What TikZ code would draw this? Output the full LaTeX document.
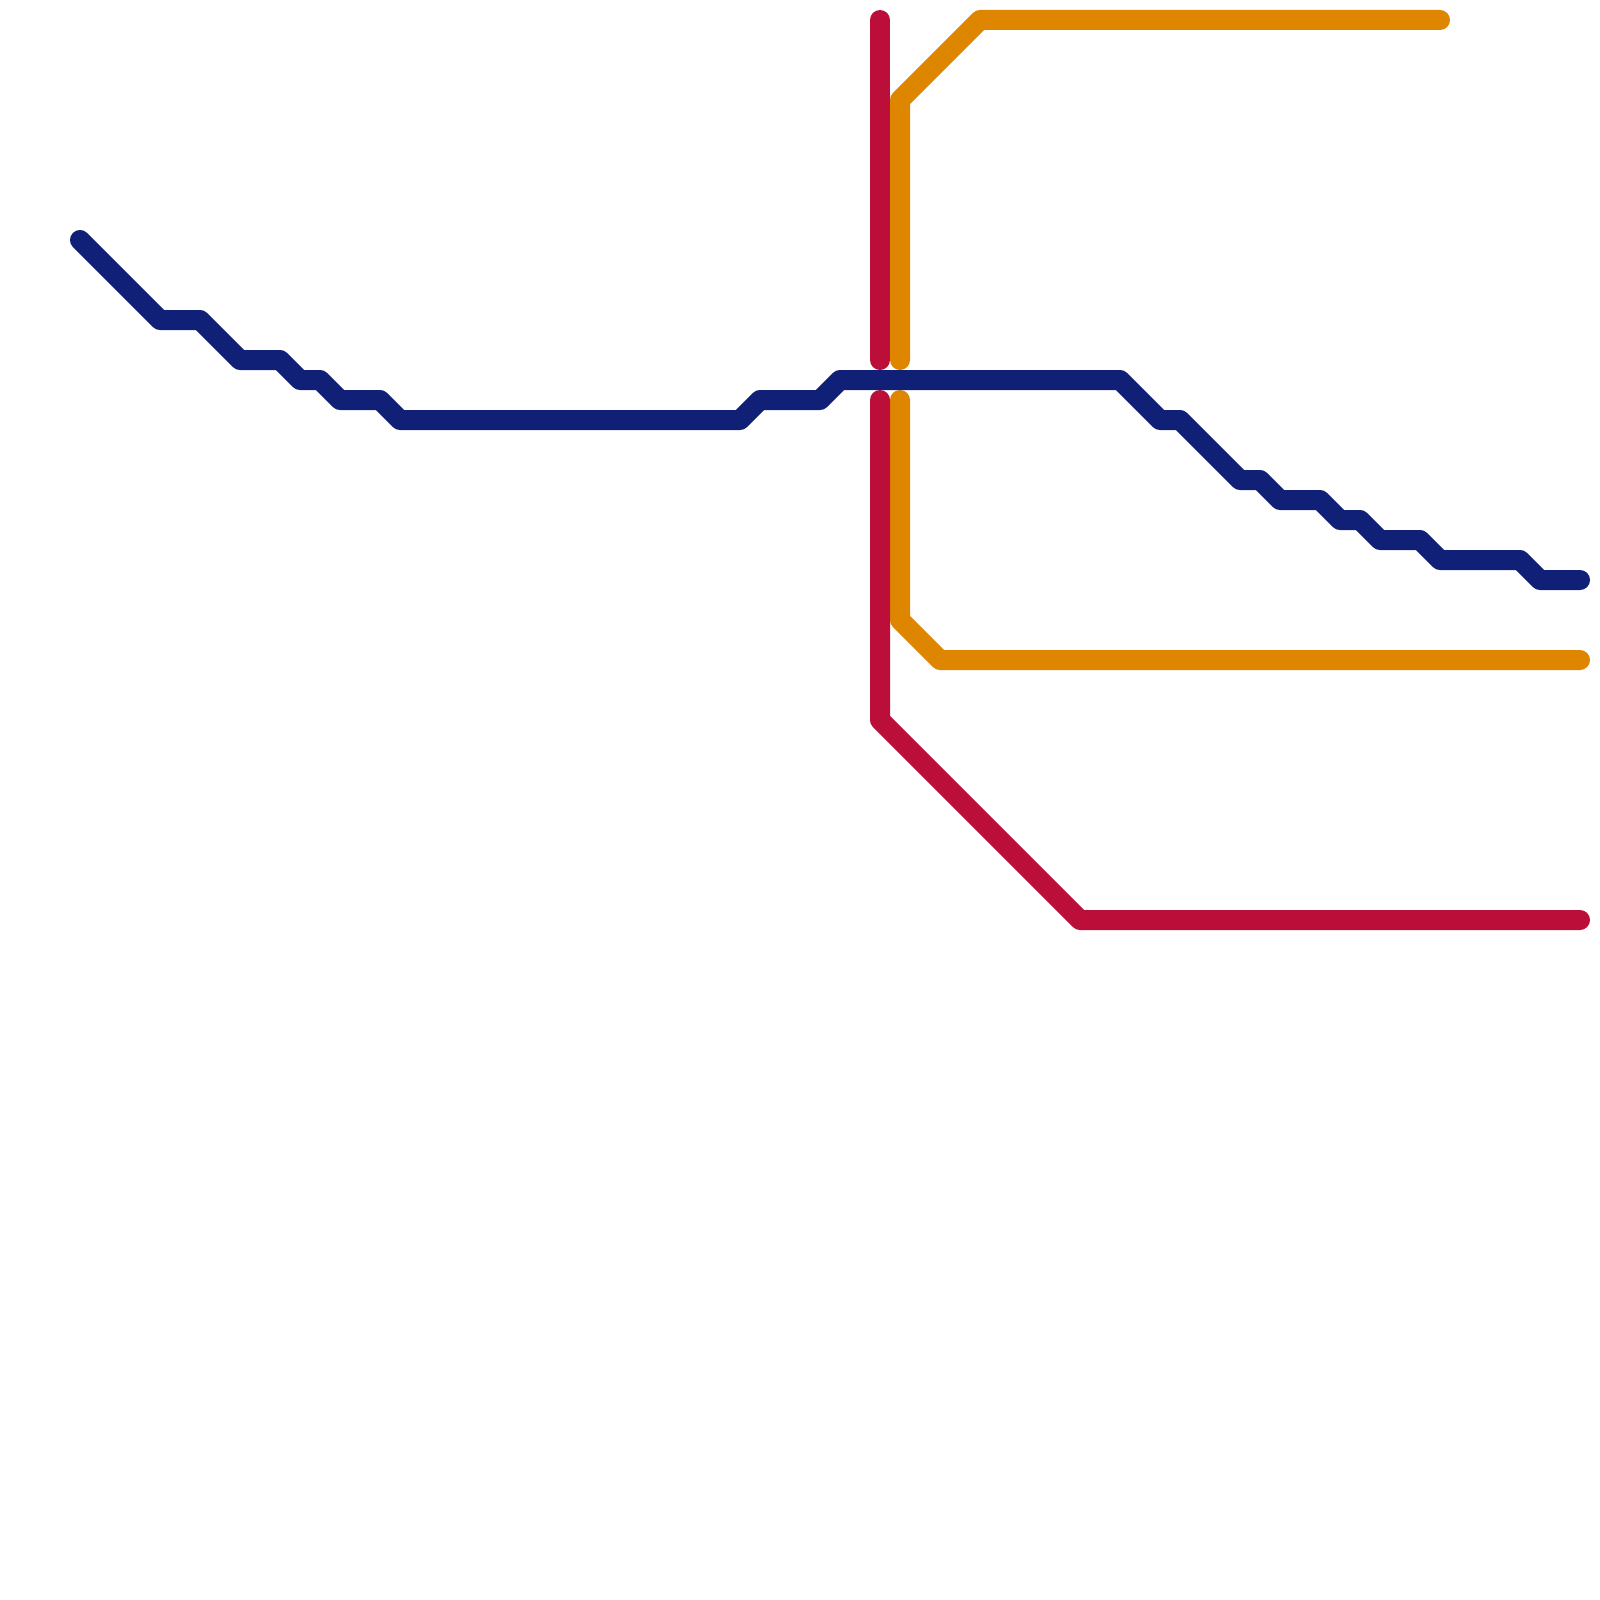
\documentclass[tikz,border=0pt]{standalone}
\definecolor{lineblue}{HTML}{102076}
\definecolor{linered}{HTML}{BB0F39}
\definecolor{lineorange}{HTML}{DF8600}
\tikzset{metro/.style={line width=20pt,line cap=round,line join=round}}
\begin{document}
\begin{tikzpicture}[x=1pt,y=-1pt]
\useasboundingbox (0,0) rectangle (1600,1600);
\draw[metro,lineorange] (900,360) -- (900,100) -- (980,20) -- (1440,20);
\draw[metro,lineorange] (900,400) -- (900,620) -- (940,660) -- (1580,660);
\draw[metro,linered] (880,20) -- (880,360);
\draw[metro,linered] (880,400) -- (880,720) -- (1080,920) -- (1580,920);
\draw[metro,lineblue] (80,240) -- (160,320) -- (200,320) -- (240,360) -- (280,360) -- (300,380) -- (320,380) -- (340,400) -- (380,400) -- (400,420) -- (740,420) -- (760,400) -- (820,400) -- (840,380) -- (1120,380) -- (1160,420) -- (1180,420) -- (1240,480) -- (1260,480) -- (1280,500) -- (1320,500) -- (1340,520) -- (1360,520) -- (1380,540) -- (1420,540) -- (1440,560) -- (1520,560) -- (1540,580) -- (1580,580);
\end{tikzpicture}
\end{document}
